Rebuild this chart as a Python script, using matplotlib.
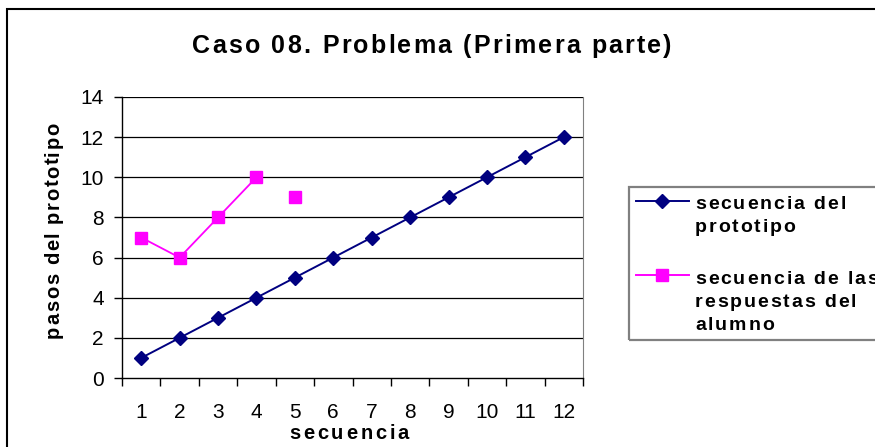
import matplotlib.pyplot as plt
from matplotlib.patches import Rectangle
from matplotlib.lines import Line2D
from matplotlib.font_manager import FontProperties

plt.rcParams['font.family'] = ['Liberation Sans', 'DejaVu Sans']

secuencia = [1, 2, 3, 4, 5, 6, 7, 8, 9, 10, 11, 12]
prototipo = [1, 2, 3, 4, 5, 6, 7, 8, 9, 10, 11, 12]
alumno_x = [1, 2, 3, 4, 5]
alumno = [7, 6, 8, 10, 9]
# the answer sequence is joined only up to the 4th step
alumno_unidos = 4

titulo = 'Caso 08. Problema (Primera parte)'
xlabel = 'secuencia'
ylabel = 'pasos del prototipo'
leyenda = [['secuencia del', 'prototipo'],
           ['secuencia de las', 'respuestas del', 'alumno']]

AZUL = '#000080'
MAGENTA = '#FF00FF'
W, H = 875, 447

fig = plt.figure(figsize=(W / 100, H / 100), dpi=100)
renderer = fig.canvas.get_renderer()


def fx(px):
    return px / W


def fy(py):
    return 1 - py / H


def spaced_text(x, y, s, size, extra, align='center', rotation=0):
    """Bold text with extra tracking; x,y = pixel anchor on the baseline."""
    prop = FontProperties(family='Liberation Sans', size=size, weight='bold')

    def width(t):
        return renderer.get_text_width_height_descent(t, prop, ismath=False)[0]

    wl = width('l')
    offs = [0 if i == 0 else width(s[:i] + 'l') - wl for i in range(len(s))]
    offs = [o + i * extra for i, o in enumerate(offs)]
    total = width(s) + (len(s) - 1) * extra
    start = -total / 2 if align == 'center' else 0
    for ch, o in zip(s, offs):
        if ch == ' ':
            continue
        d = start + o
        if rotation == 0:
            fig.text(fx(x + d), fy(y), ch, fontproperties=prop,
                     ha='left', va='baseline')
        else:
            fig.text(fx(x), fy(y - d), ch, fontproperties=prop, rotation=90,
                     rotation_mode='anchor', ha='left', va='baseline')


ax = fig.add_axes([fx(122), fy(378), 461 / W, 281 / H])

# horizontal grid
for y in range(2, 15, 2):
    ax.axhline(y, color='black', lw=0.9, zorder=1)

ax.plot(secuencia, prototipo, color=AZUL, lw=1.4, marker='D', ms=7.5, zorder=3)
ax.plot(alumno_x[:alumno_unidos], alumno[:alumno_unidos], color=MAGENTA, lw=1.3,
        zorder=3)
ax.plot(alumno_x, alumno, color=MAGENTA, lw=0, marker='s', ms=9, zorder=3)

ax.set_xlim(0.5, 12.5)
ax.set_ylim(0, 14)
ax.set_yticks(range(0, 15, 2))
ax.set_xticks(secuencia)
ax.set_xticks([x + 0.5 for x in range(0, 13)], minor=True)
ax.tick_params(axis='x', which='major', length=0, pad=18, labelsize=15)
ax.tick_params(axis='x', which='minor', length=6, width=1, direction='out')
ax.tick_params(axis='y', length=6, width=1, direction='out', pad=7, labelsize=15)

ax.spines['top'].set_visible(False)
ax.spines['right'].set_color('#808080')
ax.spines['left'].set_linewidth(1)
ax.spines['bottom'].set_linewidth(1)

# titles
spaced_text(432, 53, titulo, 18, 2.2)
spaced_text(349, 439, xlabel, 14.5, 2.8)
spaced_text(59, 230, ylabel, 14.5, 1.6, rotation=90)

# legend
fig.patches.append(Rectangle((fx(629), fy(340)), fx(900) - fx(629), fy(187) - fy(340),
                             transform=fig.transFigure, fill=False,
                             edgecolor='#808080', lw=1.6))
handles = [(201, AZUL, 'D', 7.5), (275, MAGENTA, 's', 9)]
for hy, color, marker, ms in handles:
    fig.add_artist(Line2D([fx(636), fx(689)], [fy(hy), fy(hy)], color=color,
                          lw=1.4, transform=fig.transFigure))
    fig.add_artist(Line2D([fx(662)], [fy(hy)], color=color, marker=marker, ms=ms,
                          transform=fig.transFigure))
baselines = [[209, 232.5], [283.5, 307, 330]]
for lineas, bases in zip(leyenda, baselines):
    for texto, by in zip(lineas, bases):
        spaced_text(695, by, texto, 14, 1.9, align='left')

# outer chart frame
fig.patches.append(Rectangle((fx(7), -0.1), 1.2, fy(9) + 0.1,
                             transform=fig.transFigure, fill=False,
                             edgecolor='black', lw=1.5))

fig.savefig('out.png', dpi=100)
